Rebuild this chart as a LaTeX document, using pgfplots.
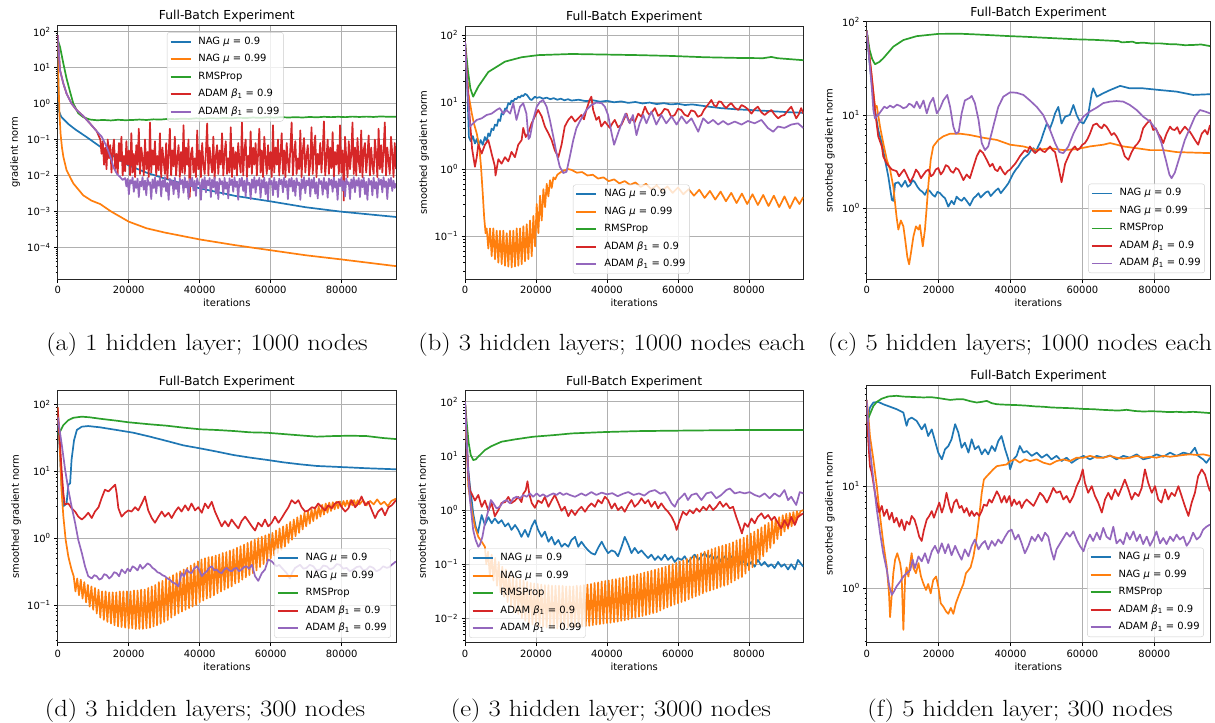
\documentclass[border=0pt]{standalone}
\usepackage{fontspec}
\setsansfont{DejaVu Sans}
\usepackage{graphicx}
\usepackage{pgfplots}
\pgfplotsset{compat=1.18}

\definecolor{c0}{HTML}{1F77B4}
\definecolor{c1}{HTML}{FF7F0E}
\definecolor{c2}{HTML}{2CA02C}
\definecolor{c3}{HTML}{D62728}
\definecolor{c4}{HTML}{9467BD}
\definecolor{gridc}{HTML}{B0B0B0}
\definecolor{legc}{HTML}{CCCCCC}

\newcommand{\sm}{\sffamily\fontsize{10}{12}\selectfont}
\newcommand{\leg}{\legend{NAG \textit{μ} = 0.9, NAG \textit{μ} = 0.99, RMSProp, ADAM \textit{β}\textsubscript{1} = 0.9, ADAM \textit{β}\textsubscript{1} = 0.99}}
\newcommand{\capt}[1]{\scalebox{1.135}[1]{#1}}

\pgfplotsset{
  scale only axis,
  xmin=0,
  xtick={0,20000,40000,60000,80000},
  scaled x ticks=false,
  tick label style={font=\sm},
  label style={font=\sm},
  title style={font=\sffamily\fontsize{12.4}{15}\selectfont, at={(0.5,1)}, anchor=south, yshift=-3.5bp, inner sep=0pt},
  xlabel style={at={(axis description cs:0.5,0)}, anchor=base, yshift=-27.5bp, inner sep=0pt},
  ylabel style={anchor=center, inner sep=0pt},
  tick pos=left, tick align=outside,
  major tick length=3.5bp, minor tick length=2bp,
  major tick style={line width=0.8bp, black},
  minor tick style={line width=0.6bp, black},
  grid=major, major grid style={gridc, line width=0.8bp},
  axis line style={line width=0.8bp, black!85},
  every axis plot/.append style={line width=1.7bp, line join=round, mark=none},
  legend cell align=left,
  legend image code/.code={\draw[#1, line width=1.7bp] (0bp,0bp) -- (20bp,0bp); \path (25.5bp,0bp);},
  legend style={font=\sm, draw=legc, rounded corners=2.5bp, fill=white, fill opacity=0.8, draw opacity=1, text opacity=1,
    inner xsep=2.5bp, inner ysep=3bp, row sep=4.5bp, nodes={inner sep=1.5bp, text height=7.5bp, text depth=2.5bp}},
}

\begin{document}
\begin{tikzpicture}
\path[use as bounding box] (0,0) rectangle (1215bp,-723bp);

% ---------------- (a) ----------------
\begin{axis}[at={(57.7bp,-279.3bp)}, anchor=south west, width=338.3bp, height=254.3bp,
  ymode=log, xmax=95300, ymin=1.29e-5, ymax=154,
  /pgf/number format/fixed, /pgf/number format/1000 sep={}, /pgf/number format/assume math mode=true,
  title={Full-Batch Experiment}, xlabel={iterations}, ylabel={gradient norm},
  ytick={1e-4,1e-3,1e-2,1e-1,1,10,100},
  yticklabels={10\textsuperscript{−4},10\textsuperscript{−3},10\textsuperscript{−2},10\textsuperscript{−1},10\textsuperscript{0},10\textsuperscript{1},10\textsuperscript{2}},
  minor ytick={2e-5,3e-5,4e-5,5e-5,6e-5,7e-5,8e-5,9e-5,2e-4,3e-4,4e-4,5e-4,6e-4,7e-4,8e-4,9e-4,2e-3,3e-3,4e-3,5e-3,6e-3,7e-3,8e-3,9e-3,0.02,0.03,0.04,0.05,0.06,0.07,0.08,0.09,0.2,0.3,0.4,0.5,0.6,0.7,0.8,0.9,2,3,4,5,6,7,8,9,20,30,40,50,60,70,80,90},
  ylabel style={at={(axis description cs:-0.126,0.5)}},
  legend style={at={(0.323,0.972)}, anchor=north west}]
\addplot[c0] coordinates {(0,60)(150,3)(400,0.6)(1000,0.43)(3000,0.27)(5000,0.19)(8000,0.12)(12000,0.063)(16000,0.033)(20000,0.019)(25000,0.012)(30000,0.0083)(40000,0.0044)(50000,0.0027)(60000,0.0019)(70000,0.0013)(80000,0.00098)(95300,0.0007)};
\addplot[c1] coordinates {(0,60)(200,5)(500,0.5)(800,0.15)(1200,0.06)(1600,0.033)(2500,0.014)(4400,0.006)(7200,0.0028)(9500,0.002)(12000,0.0016)(15000,0.001)(20000,0.00052)(25000,0.00034)(30000,0.00026)(40000,0.000166)(50000,0.000115)(60000,0.000083)(70000,0.00006)(80000,0.000046)(95300,0.00003)};
\addplot[c2] coordinates {(0,60)(650,38)(1600,13)(2500,5)(3500,2.1)(4400,1.0)(5800,0.54)(7200,0.42)(9100,0.36)(11000,0.345)(13000,0.35)(15000,0.34)(17000,0.355)(19000,0.345)(21000,0.35)(23000,0.36)(25000,0.35)(27000,0.365)(29000,0.36)(31000,0.375)(33000,0.37)(35000,0.38)(37000,0.375)(39000,0.39)(41000,0.38)(43000,0.395)(45000,0.385)(47000,0.4)(49000,0.39)(51000,0.405)(53000,0.395)(55000,0.41)(57000,0.4)(59000,0.415)(61000,0.405)(63000,0.42)(65000,0.41)(67000,0.42)(69000,0.41)(71000,0.425)(73000,0.415)(75000,0.43)(77000,0.42)(79000,0.43)(81000,0.42)(83000,0.435)(85000,0.425)(87000,0.435)(89000,0.425)(91000,0.44)(93000,0.43)(95300,0.43)};
\addplot[c3] coordinates {(0,80)(650,8.5)(1600,3.6)(2500,1.9)(3900,1.0)(5350,0.66)(7200,0.45)(9100,0.28)(11000,0.17)
(12000,0.1)(12350,0.04)(12700,0.09)(13050,0.02)(13400,0.06)(13750,0.015)(14100,0.1)(14450,0.03)(14800,0.07)(15150,0.012)
(15500,0.05)(15850,0.1)(16200,0.015)(16550,0.04)(16900,0.011)(17250,0.08)(17600,0.025)(17950,0.12)(18300,0.01)(18650,0.035)
(19000,0.013)(19350,0.09)(19700,0.02)(20050,0.05)(20400,0.01)(20750,0.15)(21100,0.012)(21450,0.04)(21800,0.009)(22150,0.07)
(22500,0.02)(22850,0.2)(23200,0.011)(23550,0.06)(23900,0.03)(24250,0.01)(24600,0.1)(24950,0.015)(25300,0.045)(25650,0.009)
(26000,0.3)(26350,0.012)(26700,0.05)(27050,0.02)(27400,0.09)(27750,0.01)(28100,0.035)(28450,0.014)(28800,0.15)(29150,0.009)
(29500,0.06)(29850,0.025)(30200,0.011)(30550,0.08)(30900,0.008)(31250,0.04)(31600,0.2)(31950,0.01)(32300,0.05)(32650,0.018)
(33000,0.12)(33350,0.01)(33700,0.03)(34050,0.07)(34400,0.009)(34750,0.045)(35100,0.012)(35450,0.25)(35800,0.011)(36150,0.06)
(36500,0.02)(36850,0.1)(37200,0.0025)(37550,0.04)(37900,0.06)(38250,0.012)(38600,0.03)(38950,0.009)(39300,0.18)(39650,0.015)
(40000,0.05)(40350,0.009)(40700,0.08)(41050,0.02)(41400,0.011)(41750,0.045)(42100,0.28)(42450,0.01)(42800,0.06)(43150,0.025)
(43500,0.012)(43850,0.12)(44200,0.008)(44550,0.035)(44900,0.07)(45250,0.011)(45600,0.05)(45950,0.02)(46300,0.15)(46650,0.01)
(47000,0.04)(47350,0.09)(47700,0.011)(48050,0.03)(48400,0.012)(48750,0.22)(49100,0.009)(49450,0.06)(49800,0.015)(50150,0.045)
(50500,0.01)(50850,0.08)(51200,0.025)(51550,0.012)(51900,0.3)(52250,0.01)(52600,0.05)(52950,0.1)(53300,0.009)(53650,0.035)
(54000,0.017)(54350,0.17)(54700,0.011)(55050,0.06)(55400,0.02)(55750,0.08)(56100,0.01)(56450,0.04)(56800,0.2)(57150,0.012)
(57500,0.05)(57850,0.009)(58200,0.12)(58550,0.03)(58900,0.011)(59250,0.07)(59600,0.015)(59950,0.045)(60300,0.009)(60650,0.25)
(61000,0.012)(61350,0.06)(61700,0.02)(62050,0.1)(62400,0.01)(62750,0.035)(63100,0.15)(63450,0.011)(63800,0.05)(64150,0.009)
(64500,0.08)(64850,0.025)(65200,0.012)(65550,0.06)(65900,0.3)(66250,0.01)(66600,0.04)(66950,0.09)(67300,0.011)(67650,0.03)
(68000,0.015)(68350,0.18)(68700,0.009)(69050,0.05)(69400,0.11)(69750,0.012)(70100,0.035)(70450,0.07)(70800,0.01)(71150,0.022)
(71500,0.22)(71850,0.011)(72200,0.06)(72550,0.13)(72900,0.009)(73250,0.04)(73600,0.02)(73950,0.08)(74300,0.012)(74650,0.05)
(75000,0.32)(75350,0.01)(75700,0.03)(76050,0.1)(76400,0.011)(76750,0.06)(77100,0.016)(77450,0.16)(77800,0.009)(78150,0.045)
(78500,0.02)(78850,0.07)(79200,0.011)(79550,0.25)(79900,0.012)(80250,0.05)(80600,0.002)(80950,0.12)(81300,0.03)(81650,0.009)
(82000,0.09)(82350,0.015)(82700,0.04)(83050,0.3)(83400,0.011)(83750,0.06)(84100,0.01)(84450,0.11)(84800,0.025)(85150,0.012)
(85500,0.18)(85850,0.009)(86200,0.05)(86550,0.08)(86900,0.012)(87250,0.035)(87600,0.13)(87950,0.01)(88300,0.06)(88650,0.02)
(89000,0.011)(89350,0.1)(89700,0.04)(90050,0.009)(90400,0.2)(90750,0.015)(91100,0.07)(91450,0.012)(91800,0.05)(92150,0.3)
(92500,0.01)(92850,0.06)(93200,0.025)(93550,0.011)(93900,0.12)(94250,0.04)(94600,0.009)(94950,0.08)(95300,0.015)};
\addplot[c4] coordinates {(0,80)(650,8.5)(1600,3.6)(2500,1.9)(3900,1.0)(5350,0.66)(7200,0.45)(9100,0.28)(11000,0.17)(12400,0.12)(13800,0.063)(15000,0.03)(15700,0.017)(16700,0.011)(17600,0.009)(18300,0.0075)
(19000,0.0085)(19350,0.005)(19700,0.008)(20050,0.003)(20400,0.0075)(20750,0.006)(21100,0.0088)(21450,0.0035)(21800,0.007)(22150,0.0045)
(22500,0.0082)(22850,0.0025)(23200,0.0068)(23550,0.005)(23900,0.009)(24250,0.004)(24600,0.0072)(24950,0.0028)(25300,0.0085)(25650,0.0055)
(26000,0.0065)(26350,0.0022)(26700,0.0078)(27050,0.0045)(27400,0.0088)(27750,0.0032)(28100,0.007)(28450,0.0052)(28800,0.0086)(29150,0.0026)
(29500,0.0074)(29850,0.0048)(30200,0.009)(30550,0.0036)(30900,0.0062)(31250,0.0021)(31600,0.0081)(31950,0.0055)(32300,0.0072)(32650,0.003)
(33000,0.0087)(33350,0.0042)(33700,0.0066)(34050,0.0024)(34400,0.0083)(34750,0.0058)(35100,0.0075)(35450,0.0033)(35800,0.0089)(36150,0.0046)
(36500,0.0069)(36850,0.0022)(37200,0.008)(37550,0.005)(37900,0.0087)(38250,0.0038)(38600,0.0071)(38950,0.0027)(39300,0.0084)(39650,0.0056)
(40000,0.0064)(40350,0.0021)(40700,0.0079)(41050,0.0044)(41400,0.009)(41750,0.0034)(42100,0.0073)(42450,0.0053)(42800,0.0085)(43150,0.0025)
(43500,0.0076)(43850,0.0047)(44200,0.0088)(44550,0.0031)(44900,0.0067)(45250,0.0022)(45600,0.0082)(45950,0.0057)(46300,0.007)(46650,0.0029)
(47000,0.0086)(47350,0.0043)(47700,0.0065)(48050,0.0023)(48400,0.0084)(48750,0.0054)(49100,0.0077)(49450,0.0035)(49800,0.0089)(50150,0.0048)
(50500,0.0068)(50850,0.0021)(51200,0.0081)(51550,0.0051)(51900,0.0087)(52250,0.0037)(52600,0.0072)(52950,0.0026)(53300,0.0085)(53650,0.0055)
(54000,0.0063)(54350,0.0022)(54700,0.0078)(55050,0.0045)(55400,0.009)(55750,0.0033)(56100,0.0074)(56450,0.0052)(56800,0.0086)(57150,0.0024)
(57500,0.0075)(57850,0.0046)(58200,0.0088)(58550,0.003)(58900,0.0066)(59250,0.0021)(59600,0.0083)(59950,0.0056)(60300,0.0071)(60650,0.0028)
(61000,0.0087)(61350,0.0041)(61700,0.0067)(62050,0.0025)(62400,0.0082)(62750,0.0057)(63100,0.0076)(63450,0.0034)(63800,0.0089)(64150,0.0047)
(64500,0.007)(64850,0.0022)(65200,0.008)(65550,0.0049)(65900,0.0086)(66250,0.0036)(66600,0.0073)(66950,0.0027)(67300,0.0084)(67650,0.0054)
(68000,0.0064)(68350,0.0021)(68700,0.0079)(69050,0.0044)(69400,0.009)(69750,0.0032)(70100,0.0072)(70450,0.0053)(70800,0.0085)(71150,0.0026)
(71500,0.0077)(71850,0.0045)(72200,0.0088)(72550,0.0031)(72900,0.0065)(73250,0.0023)(73600,0.0081)(73950,0.0058)(74300,0.007)(74650,0.0029)
(75000,0.0086)(75350,0.0042)(75700,0.0066)(76050,0.0024)(76400,0.0083)(76750,0.0055)(77100,0.0076)(77450,0.0035)(77800,0.0089)(78150,0.0046)
(78500,0.0069)(78850,0.0021)(79200,0.008)(79550,0.005)(79900,0.0087)(80250,0.0038)(80600,0.0071)(80950,0.0026)(81300,0.0084)(81650,0.0057)
(82000,0.0065)(82350,0.0022)(82700,0.0078)(83050,0.0045)(83400,0.009)(83750,0.0034)(84100,0.0074)(84450,0.0052)(84800,0.0085)(85150,0.0025)
(85500,0.0075)(85850,0.0047)(86200,0.0088)(86550,0.003)(86900,0.0067)(87250,0.0021)(87600,0.0082)(87950,0.0056)(88300,0.0071)(88650,0.0028)
(89000,0.0087)(89350,0.0043)(89700,0.0066)(90050,0.0024)(90400,0.0083)(90750,0.0055)(91100,0.0077)(91450,0.0034)(91800,0.0089)(92150,0.0048)
(92500,0.0069)(92850,0.0022)(93200,0.008)(93550,0.005)(93900,0.0086)(94250,0.0037)(94600,0.0072)(94950,0.0045)(95300,0.006)};
\leg
\end{axis}

% ---------------- (b) ----------------
\begin{axis}[at={(465bp,-279.3bp)}, anchor=south west, width=338.3bp, height=253.3bp,
  ymode=log, xmax=95300, ymin=0.0226, ymax=136,
  /pgf/number format/fixed, /pgf/number format/1000 sep={}, /pgf/number format/assume math mode=true,
  title={Full-Batch Experiment}, xlabel={iterations}, ylabel={smoothed gradient norm},
  ytick={0.1,1,10,100},
  yticklabels={10\textsuperscript{−1},10\textsuperscript{0},10\textsuperscript{1},10\textsuperscript{2}},
  minor ytick={0.03,0.04,0.05,0.06,0.07,0.08,0.09,0.2,0.3,0.4,0.5,0.6,0.7,0.8,0.9,2,3,4,5,6,7,8,9,20,30,40,50,60,70,80,90},
  ylabel style={at={(axis description cs:-0.121,0.5)}},
  legend style={at={(0.319,0.021)}, anchor=south west}]
\addplot[c0] coordinates {(0,80)(600,20)(1100,3.0)(1600,2.6)(2200,3.1)(2800,2.4)(3300,2.8)(3900,2.2)(4400,2.7)(5000,2.3)(5600,3.0)(6100,2.6)(6570,3.4)(7000,3.1)(7500,4.0)(8000,3.8)(8440,4.6)(9000,4.4)(9400,5.5)(9900,5.2)(10300,6.8)(10800,6.5)(11300,8.0)(11700,7.8)(12200,9.6)(12700,9.2)(13100,10.5)(13600,10.2)(14070,11.2)(14500,11.0)(15000,12.0)(15500,11.6)(15950,12.6)(16400,12.2)(16900,13.2)(17400,12.8)(17800,12.0)(18300,11.0)(18760,10.7)(19200,11.3)(19700,12)(20200,11.5)(21000,11.8)(22000,11.2)(23000,11.6)(24000,11.0)(25000,11.4)(26000,10.8)(27000,11.2)(28000,10.6)(29000,11.0)(30000,10.5)(32000,10.8)(34000,10.3)(36000,10.6)(38000,10.1)(40000,10.4)(42000,9.9)(44000,10.2)(46000,9.7)(48000,10.0)(50000,9.5)(52000,9.8)(54000,9.3)(56000,9.6)(58000,9.2)(60000,9.4)(62000,9.0)(64000,9.2)(66000,8.9)(68000,8.6)(72000,8.1)(76000,7.8)(80000,7.6)(84000,7.4)(88000,7.2)(92000,7.0)(95300,6.9)};
\addplot[c1] coordinates {(0,80)(940,13.5)(1900,6.8)(2500,4.8)(3300,3.4)(4000,2.2)(4500,1.1)(5000,0.43)(5400,0.19)(5800,0.11)(6100,0.13)(6570,0.065)(7040,0.13)(7510,0.05)(7980,0.13)(8450,0.045)(8920,0.12)(9390,0.04)(9860,0.12)(10330,0.038)(10800,0.12)(11270,0.036)(11740,0.11)(12210,0.035)(12680,0.12)(13150,0.034)(13620,0.12)(14090,0.035)(14560,0.13)(15030,0.036)(15500,0.13)(15970,0.038)(16440,0.14)(16910,0.042)(17380,0.15)(17850,0.045)(18320,0.17)(18790,0.05)(19260,0.2)(19730,0.07)(20200,0.3)(20670,0.11)(21140,0.4)(21610,0.17)(22080,0.5)(22550,0.27)(23020,0.6)(23490,0.39)(23960,0.68)(24430,0.52)(24900,0.75)(25400,0.7)(26000,0.82)(27000,0.9)(28000,0.95)(29000,1.0)(30000,0.97)(31500,0.88)(33000,0.9)(34500,0.8)(36000,0.82)(37500,0.72)(39000,0.75)(40500,0.66)(42000,0.7)(43500,0.61)(45000,0.66)(46500,0.58)(48000,0.63)(49500,0.54)(51000,0.6)(52500,0.5)(54000,0.57)(55500,0.47)(57000,0.55)(58500,0.44)(60000,0.53)(61500,0.42)(63000,0.5)(64500,0.4)(66000,0.49)(67500,0.37)(69000,0.47)(70500,0.35)(72000,0.46)(73500,0.33)(75000,0.44)(76500,0.31)(78000,0.43)(79500,0.3)(81000,0.42)(82500,0.29)(84000,0.41)(85500,0.28)(87000,0.4)(88500,0.27)(90000,0.39)(91500,0.26)(93000,0.38)(94200,0.3)(95300,0.38)};
\addplot[c2] coordinates {(0,80)(800,30)(1500,16)(2300,12)(3750,17)(6570,28)(11260,40)(15950,46.5)(20600,50)(30000,52)(39400,51)(48800,50)(58200,48.6)(67500,46.5)(77000,45.4)(84000,45)(86300,47)(88000,45)(95300,42)};
\addplot[c3] coordinates {(0,80)(1000,10)(2000,2.0)(2800,1.08)(3300,1.5)(3750,2.3)(4700,1.7)(5600,2.3)(6570,2.7)(7500,1.7)(8400,1.1)(8600,0.8)(9400,1.4)(10300,1.2)(11260,1.5)(12200,1.3)(13100,1.8)(14070,1.5)(15000,2.3)(15950,2.7)(16400,4.1)(17100,3.0)(17800,3.4)(18760,4.8)(19700,6.1)(20600,7.6)(21600,6.1)(22500,4.3)(23500,3.4)(24400,2.7)(25300,1.9)(26300,1.5)(27200,2.3)(28100,4.3)(29100,5.4)(30000,6.1)(31000,5.1)(31900,5.7)(32800,6.4)(33500,5.5)(34200,7.6)(35100,10.7)(35600,12)(36100,7.6)(37000,5.4)(37700,6.0)(38400,4.3)(39400,5.1)(40800,4.1)(41500,4.8)(42200,5.4)(43100,4.2)(44100,4.6)(45500,6.7)(46200,5.0)(46900,5.7)(47800,5.0)(48800,6.7)(49700,6.0)(50700,8.5)(51400,7.0)(52000,6.4)(52800,7.2)(53500,8.1)(54400,6.2)(55300,6.7)(56200,7.9)(57200,7.6)(58100,6.0)(59100,6.4)(60000,7.9)(60900,7.6)(61800,6.5)(62800,6.1)(63700,7.5)(64700,7.2)(65600,6.0)(66600,6.4)(67300,7.6)(68000,8.5)(68700,9.5)(69400,10.7)(70100,9.0)(70800,8.5)(71500,10.2)(72200,10)(72900,8.8)(73600,8.1)(74300,9.0)(75000,9.6)(76000,8.2)(77000,7.6)(77900,9.0)(78800,8.5)(79700,7.8)(80700,6.7)(81600,7.8)(82500,8.5)(83500,7.0)(84400,6.4)(85300,7.0)(86300,7.6)(87200,6.5)(88200,5.7)(89100,6.2)(90000,6.4)(91000,7.5)(91900,8.5)(92600,7.0)(93300,5.7)(94000,6.5)(94700,8.1)(95300,6.7)};
\addplot[c4] coordinates {(0,80)(700,15)(1400,4.3)(2300,4.8)(3300,5.4)(4700,5.7)(6100,6.4)(7500,6.7)(8900,7.6)(9800,8.1)(10800,6.7)(11700,7.6)(12700,6.7)(13600,9.6)(14500,5.4)(15500,8.5)(16400,9.6)(17300,6.7)(17900,2.8)(18300,3.0)(19200,5.4)(20200,8.5)(21100,10)(22000,10.7)(23000,8.5)(23900,5.4)(24900,3.0)(25800,1.7)(26700,1.08)(27700,0.87)(28600,0.91)(29500,1.5)(30500,2.7)(31400,4.1)(32800,5.7)(34200,7.6)(35600,9.0)(37000,9.8)(38500,9.6)(39400,8.5)(40300,6.4)(41300,3.4)(42000,2.3)(43100,3.4)(44100,4.8)(45200,6.7)(46400,4.8)(47300,6.4)(48300,3.2)(49200,4.8)(50200,6.4)(51100,4.8)(52500,7.2)(53900,4.6)(55300,6.4)(56700,4.8)(58200,6.1)(59600,4.6)(61000,6.1)(62400,4.8)(63800,5.7)(65700,3.6)(67100,5.7)(68500,4.8)(69900,5.4)(71300,4.6)(72700,5.2)(74100,4.6)(76000,5.1)(77900,4.6)(79700,5.2)(81600,4.8)(83500,5.4)(85300,4.1)(86800,3.6)(88200,4.3)(90000,4.1)(91900,4.6)(93800,4.8)(95300,4.1)};
\leg
\end{axis}

% ---------------- (c) ----------------
\begin{axis}[at={(866.7bp,-279.3bp)}, anchor=south west, width=343.3bp, height=257.6bp,
  ymode=log, xmax=95500, ymin=0.173, ymax=100,
  /pgf/number format/fixed, /pgf/number format/1000 sep={}, /pgf/number format/assume math mode=true,
  title={Full-Batch Experiment}, xlabel={iterations}, ylabel={smoothed gradient norm},
  ytick={1,10,100},
  yticklabels={10\textsuperscript{0},10\textsuperscript{1},10\textsuperscript{2}},
  minor ytick={0.2,0.3,0.4,0.5,0.6,0.7,0.8,0.9,2,3,4,5,6,7,8,9,20,30,40,50,60,70,80,90},
  ylabel style={at={(axis description cs:-0.107,0.5)}},
  legend style={at={(0.985,0.024)}, anchor=south east}]
\addplot[c0] coordinates {(0,80)(700,40)(1400,21.9)(2300,11.3)(3200,6.9)(4200,5)(5100,3.3)(6000,2.2)(7000,1.23)(7400,1.2)(7900,1.85)(8800,1.9)(9700,1.7)(10700,1.97)(11400,1.7)(12100,1.78)(12800,2.0)(13400,1.9)(14100,1.7)(14800,1.57)(15500,1.5)(16200,1.39)(16900,1.6)(17600,1.52)(18300,1.4)(19000,1.33)(19700,1.5)(20400,1.45)(21100,1.35)(21800,1.28)(22700,1.04)(23600,1.2)(24300,1.1)(25000,1.33)(25700,1.25)(26400,1.2)(27100,1.3)(27800,1.2)(28700,1.07)(29700,1.28)(30400,1.35)(31100,1.45)(31700,1.3)(32400,1.39)(33100,1.48)(33800,1.52)(34500,1.35)(35200,1.45)(35900,1.55)(36600,1.63)(37300,1.45)(38000,1.57)(38700,1.7)(39400,1.85)(40100,2.1)(40800,2.37)(41500,2.6)(42200,2.8)(42900,3.1)(43600,3.4)(44300,3.6)(45000,3.8)(45700,4.2)(46400,4.4)(47000,4.0)(47700,4.6)(48400,5.2)(49100,6.3)(50100,8.1)(51000,7.2)(51700,8.5)(52400,10.4)(53300,12.2)(54200,8.1)(55200,9.6)(56500,10)(57500,12.8)(58400,10)(59300,8.5)(60300,8.1)(61600,10)(62600,17.1)(63000,19.3)(64000,15.7)(65800,17.1)(67700,18.5)(70500,20.5)(73200,19.3)(76900,19.3)(81600,18.5)(86200,17.8)(90800,16.4)(95500,16.7)};
\addplot[c1] coordinates {(0,80)(700,45)(1400,25.8)(2300,12.3)(2800,12.5)(3700,7.5)(4600,5)(5600,3.3)(6500,2.6)(7400,1.7)(8300,0.81)(8800,0.59)(9500,0.74)(10200,0.64)(10700,0.46)(11300,0.30)(11800,0.25)(12300,0.33)(13000,0.5)(13700,0.64)(14400,0.59)(14800,0.66)(15600,0.39)(16200,0.59)(16700,1.04)(17200,1.87)(17800,3.3)(18500,4.6)(19900,5.4)(21300,5.9)(23200,6.3)(26000,6.3)(28700,6.1)(32400,5.7)(36200,5.4)(39900,4.8)(43600,4.6)(47300,4.2)(51000,4.4)(54700,4.2)(58400,4.3)(62100,4.6)(65800,4.8)(67700,5.0)(71400,4.6)(75100,4.4)(78800,4.2)(82500,4.2)(86200,4.0)(90800,3.95)(95500,3.9)};
\addplot[c2] coordinates {(0,80)(800,50)(1500,40)(2300,35)(3500,37)(4600,40.5)(7400,54)(10200,63.6)(13900,70)(19900,74)(26000,74.3)(30600,73)(39900,70)(44000,69)(49100,67.4)(54000,66)(58400,64.7)(63000,64)(67700,62.6)(70000,62)(71000,60)(72300,60.5)(74000,61)(75000,59)(76900,59.6)(79000,58.5)(81600,58.6)(84000,57.5)(86200,57.2)(88500,56)(90800,56.3)(93000,57)(95500,54.8)};
\addplot[c3] coordinates {(0,80)(700,45)(1400,25.8)(2300,11.3)(3200,5.9)(4200,4.6)(4600,3.6)(5600,3.0)(7000,2.6)(8300,2.5)(9000,2.2)(9700,2.4)(10400,2.6)(11100,2.3)(12100,1.9)(13000,2.2)(13700,2.6)(14400,2.4)(15100,2.1)(15800,2.3)(16500,2.5)(17200,2.6)(17900,2.2)(18500,2.3)(19200,2.6)(19900,2.7)(20600,2.3)(21300,2.5)(22000,2.9)(22700,2.8)(23400,2.5)(24100,2.4)(24800,2.7)(25500,2.6)(26200,2.3)(26900,2.0)(27800,2.3)(28700,2.1)(29700,2.8)(30600,3.6)(31500,4.2)(32400,3.9)(33400,3.3)(34300,2.8)(35000,3.0)(35700,2.6)(36400,2.5)(37100,2.8)(37800,2.5)(38500,2.3)(39200,2.5)(39900,2.6)(40600,2.8)(41300,3.0)(42000,3.3)(42600,3.6)(43300,3.9)(44000,4.2)(44700,4.0)(45400,4.6)(46100,4.2)(46800,3.9)(47500,4.1)(48200,4.4)(48900,4.1)(49600,4.0)(50300,4.3)(51000,4.6)(51700,4.2)(52400,4.0)(53300,2.8)(54200,1.9)(55200,3.0)(56500,3.9)(57200,4.3)(57900,4.6)(58600,4.2)(59300,4.4)(60000,4.8)(60700,5.0)(61400,5.5)(62100,6.3)(63000,7.8)(64000,8.1)(64700,7.5)(65400,7.2)(66000,7.9)(66700,7.5)(67400,6.8)(68100,6.1)(68800,6.4)(69500,5.9)(70200,5.2)(70900,4.6)(71800,3.6)(72800,3.3)(73700,4.0)(74600,4.6)(75300,4.9)(76000,5.4)(76900,7.2)(77900,8.1)(78800,8.8)(79700,6.9)(80400,7.2)(81100,6.3)(81800,5.8)(82500,5.0)(83400,6.3)(84400,7.5)(85000,7.0)(85700,6.9)(86400,7.4)(87100,6.3)(87800,6.9)(88500,7.5)(89200,7.0)(89900,6.6)(90600,6.0)(91300,5.4)(92200,4.8)(93200,6.3)(94100,6.9)(94800,6.2)(95500,7.8)};
\addplot[c4] coordinates {(0,80)(900,33)(1400,20)(1850,11.3)(2300,9.2)(3200,10)(4200,11.3)(4900,12.3)(5600,11.8)(6500,12.6)(7400,12)(8400,12.9)(9300,12.5)(10200,11.8)(11100,12.2)(11800,13.2)(12500,12.8)(13200,12.0)(13900,13.9)(14800,11.8)(15800,14.3)(16700,10.4)(17600,13.4)(18500,15.3)(19500,10.4)(20400,11.8)(21300,14.3)(22400,16.4)(23200,12.2)(24100,7.5)(24800,6.3)(25600,6.6)(26400,10.4)(27300,14.3)(28700,15.3)(29200,16)(30100,13.4)(31100,8.9)(32000,5.0)(32900,4.2)(33800,4.6)(35200,7.5)(36600,12.2)(38000,15.7)(39900,17.5)(41700,17.3)(43600,16.4)(45400,14.3)(47300,12.2)(49100,10)(51000,6.9)(52400,5.0)(53600,4.0)(54700,3.9)(56100,4.6)(57500,6.3)(58900,8.1)(60300,9.6)(62100,10.9)(64000,12.0)(65800,13.4)(67700,13.9)(69500,14.1)(71400,13.9)(73200,12.8)(75100,11.3)(76900,9.6)(78800,8.5)(80600,6.9)(82000,5.0)(83200,3.3)(84200,2.3)(84800,2.1)(85700,2.4)(87100,3.6)(88500,5.4)(89900,7.2)(91300,9.6)(92700,11.3)(94100,10.9)(95500,10.4)};
\leg
\end{axis}

% ---------------- (d) ----------------
\begin{axis}[at={(57.7bp,-642.7bp)}, anchor=south west, width=338.3bp, height=252bp,
  ymode=log, xmax=95300, ymin=0.0274, ymax=160,
  /pgf/number format/fixed, /pgf/number format/1000 sep={}, /pgf/number format/assume math mode=true,
  title={Full-Batch Experiment}, xlabel={iterations}, ylabel={smoothed gradient norm},
  ytick={0.1,1,10,100},
  yticklabels={10\textsuperscript{−1},10\textsuperscript{0},10\textsuperscript{1},10\textsuperscript{2}},
  minor ytick={0.03,0.04,0.05,0.06,0.07,0.08,0.09,0.2,0.3,0.4,0.5,0.6,0.7,0.8,0.9,2,3,4,5,6,7,8,9,20,30,40,50,60,70,80,90},
  ylabel style={at={(axis description cs:-0.123,0.5)}},
  legend style={at={(0.985,0.019)}, anchor=south east}]
\addplot[c0] coordinates {(0,60)(600,20)(1100,6)(1600,3.0)(2500,3.3)(3000,6.3)(3500,6.6)(3900,14.8)(4600,29)(5400,41.5)(6800,46.4)(8600,47.4)(11900,45.4)(16600,41.4)(21300,37.7)(26000,32.9)(30700,28.4)(35400,24.4)(40100,22)(44800,19.7)(49500,17.5)(54200,16)(58900,14.8)(63600,13.6)(68300,12.7)(73000,12)(77700,11.7)(82400,11.4)(87000,11.1)(95300,10.7)};
\addplot[c1] coordinates {(0,90)(650,18.6)(1100,5)(1600,2.1)(2250,0.94)(3000,0.53)(3900,0.34)(4500,0.27)(5000,0.16)(5500,0.25)(6000,0.14)(6500,0.24)(7000,0.125)(7500,0.22)(8000,0.11)(8500,0.2)(9000,0.095)(9500,0.19)(10000,0.085)(10500,0.18)(11000,0.075)(11500,0.17)(12000,0.065)(12500,0.16)(13000,0.06)(13500,0.16)(14000,0.056)(14500,0.155)(15000,0.053)(15500,0.155)(16000,0.05)(16500,0.155)(17000,0.048)(17500,0.16)(18000,0.047)(18500,0.16)(19000,0.046)(19500,0.16)(20000,0.045)(20500,0.16)(21000,0.045)(21500,0.165)(22000,0.044)(22500,0.165)(23000,0.044)(23500,0.17)(24000,0.044)(24500,0.17)(25000,0.045)(25500,0.18)(26000,0.046)(26500,0.19)(27000,0.048)(27500,0.2)(28000,0.05)(28500,0.22)(29000,0.053)(29500,0.23)(30000,0.056)(30500,0.25)(31000,0.06)(31500,0.26)(32000,0.065)(32500,0.28)(33000,0.07)(33500,0.3)(34000,0.075)(34500,0.32)(35000,0.08)(35500,0.34)(36000,0.085)(36500,0.36)(37000,0.09)(37500,0.39)(38000,0.095)(38500,0.42)(39000,0.1)(39500,0.45)(40000,0.11)(40500,0.48)(41000,0.117)(41500,0.5)(42000,0.125)(42500,0.52)(43000,0.13)(43500,0.53)(44000,0.14)(44500,0.55)(45000,0.15)(45500,0.57)(46000,0.16)(46500,0.6)(47000,0.17)(47500,0.62)(48000,0.18)(48500,0.65)(49000,0.19)(49500,0.68)(50000,0.21)(50500,0.72)(51000,0.22)(51500,0.76)(52000,0.24)(52500,0.8)(53000,0.26)(53500,0.85)(54000,0.28)(54500,0.9)(55000,0.3)(55500,0.95)(56000,0.33)(56500,1.0)(57000,0.37)(57500,1.05)(58000,0.41)(58500,1.1)(59000,0.45)(59500,1.15)(60000,0.5)(60500,1.2)(61000,0.55)(61500,1.3)(62000,0.6)(62500,1.4)(63000,0.67)(63500,1.5)(64000,0.75)(64500,1.6)(65000,0.85)(65500,1.75)(66000,0.95)(66500,1.9)(67000,1.07)(67500,2.05)(68000,1.2)(68500,2.2)(69000,1.35)(69500,2.4)(70000,1.5)(70500,2.55)(71000,1.65)(71500,2.7)(72000,1.8)(72500,2.9)(73000,1.95)(73500,3.0)(74000,2.1)(74500,3.15)(75000,2.25)(75500,3.3)(76000,2.4)(76500,3.4)(77000,2.55)(77500,3.45)(78000,2.7)(78500,3.5)(79000,2.8)(79500,3.55)(80000,2.9)(80500,3.6)(81000,3.0)(81500,3.65)(82000,3.05)(82500,3.7)(83000,3.1)(83500,3.7)(84000,3.1)(84500,3.7)(85000,3.2)(86000,3.7)(87000,3.1)(88000,3.6)(89000,3.2)(90000,3.8)(91000,3.2)(92000,3.5)(93000,3.0)(94000,3.6)(95300,3.9)};
\addplot[c2] coordinates {(0,35)(400,37)(1600,49)(3000,58)(4400,63)(6800,65.5)(9100,64)(11900,61)(16600,57)(19900,54)(26000,50.3)(30700,48)(35400,44.9)(40100,42.4)(44800,41.4)(49500,40)(54200,38.2)(58900,37.7)(63600,36)(68300,34.4)(73000,32.9)(77700,33.6)(82400,34)(87000,33.6)(91700,31.4)(95300,30.3)};
\addplot[c3] coordinates {(0,90)(650,26)(1100,10.5)(1600,4.7)(2000,3.2)(3000,3.3)(3900,2.8)(4900,2.5)(5800,2.1)(6800,1.9)(7700,2.1)(8600,2.4)(9600,2.0)(10500,2.5)(11500,2.9)(12400,4.0)(13300,5.3)(14300,5.0)(15200,5.6)(16200,6.3)(16600,4.7)(17100,2.8)(18000,2.1)(19000,2.4)(19900,2.6)(20800,2.5)(21800,2.9)(22700,2.6)(23700,3.3)(24600,4.2)(25500,2.6)(26500,2.0)(27400,1.7)(28400,2.1)(29300,2.5)(30200,2.1)(31200,2.4)(32100,2.0)(33100,2.5)(34000,2.9)(34900,2.5)(35900,3.1)(36800,2.6)(37700,3.3)(38700,2.6)(39600,2.9)(40600,2.4)(41500,3.3)(42400,2.8)(43400,3.5)(44300,2.5)(45300,1.9)(46200,1.5)(47100,1.8)(48100,1.5)(49000,1.9)(50000,1.6)(50900,1.4)(51800,1.8)(52800,2.1)(53700,1.8)(54700,1.5)(55600,1.3)(56500,1.7)(57500,1.5)(58400,1.9)(59300,1.5)(60300,1.7)(61200,2.1)(62200,1.7)(63100,2.0)(64000,2.4)(65000,2.9)(65900,3.7)(66900,3.3)(67800,3.7)(68700,2.9)(69700,2.5)(70600,2.6)(71600,2.9)(72500,2.8)(73400,3.3)(74400,2.9)(75300,2.6)(76200,3.1)(77200,2.8)(78100,3.3)(79100,3.5)(80000,2.9)(81000,2.5)(81900,2.8)(82800,3.7)(83800,2.9)(84700,3.3)(85600,4.2)(86600,3.1)(87500,3.5)(88500,2.6)(89400,2.0)(90300,2.5)(91300,2.8)(92200,2.2)(93200,2.9)(94100,3.1)(95300,3.7)};
\addplot[c4] coordinates {(0,65)(1100,26)(2100,10.5)(3000,5.3)(3900,3.0)(4900,1.7)(5800,0.94)(6800,0.6)(7700,0.38)(8600,0.27)(9600,0.25)(10300,0.28)(11000,0.27)(11700,0.24)(12400,0.25)(13100,0.29)(13800,0.28)(14500,0.25)(15200,0.27)(15900,0.31)(16600,0.30)(17300,0.27)(18000,0.34)(19000,0.30)(19700,0.35)(20400,0.32)(21100,0.38)(21800,0.36)(22500,0.33)(23200,0.40)(23900,0.35)(24600,0.38)(25300,0.42)(26000,0.40)(26700,0.36)(27400,0.34)(28100,0.31)(28800,0.30)(29500,0.28)(30200,0.27)(30900,0.25)(31600,0.24)(32300,0.22)(33100,0.21)(34000,0.19)(34900,0.30)(35600,0.27)(36300,0.34)(37000,0.31)(37700,0.30)(38400,0.35)(39200,0.38)(39900,0.33)(40600,0.27)(41300,0.30)(42000,0.32)(42700,0.36)(43400,0.38)(44100,0.33)(44800,0.34)(45500,0.31)(46200,0.30)(46900,0.34)(47600,0.36)(48300,0.33)(49000,0.32)(49700,0.35)(50400,0.36)(51100,0.32)(51800,0.34)(52500,0.37)(53200,0.38)(53900,0.35)(54700,0.40)(55600,0.27)(56500,0.23)(57500,0.30)(58400,0.34)(59300,0.48)(60300,0.45)(61000,0.41)(61700,0.38)(62400,0.40)(63100,0.36)(63800,0.33)(64500,0.30)(65400,0.25)(66100,0.31)(66900,0.36)(67600,0.38)(68300,0.40)(69200,0.35)(70100,0.36)(71000,0.40)(72000,0.38)(72900,0.33)(73900,0.34)(74800,0.39)(75800,0.38)(76700,0.34)(77700,0.36)(78600,0.41)(79500,0.40)(80400,0.35)(81400,0.36)(82300,0.32)(83300,0.34)(84200,0.37)(85200,0.38)(86100,0.33)(87000,0.34)(87900,0.38)(88900,0.36)(89800,0.32)(90800,0.34)(91700,0.38)(92700,0.36)(93400,0.37)(94100,0.40)(95300,0.45)};
\leg
\end{axis}

% ---------------- (e) ----------------
\begin{axis}[at={(465bp,-642.7bp)}, anchor=south west, width=338.3bp, height=252bp,
  ymode=log, xmax=95300, ymin=0.00355, ymax=160,
  /pgf/number format/fixed, /pgf/number format/1000 sep={}, /pgf/number format/assume math mode=true,
  title={Full-Batch Experiment}, xlabel={iterations}, ylabel={smoothed gradient norm},
  ytick={0.01,0.1,1,10,100},
  yticklabels={10\textsuperscript{−2},10\textsuperscript{−1},10\textsuperscript{0},10\textsuperscript{1},10\textsuperscript{2}},
  minor ytick={0.004,0.005,0.006,0.007,0.008,0.009,0.02,0.03,0.04,0.05,0.06,0.07,0.08,0.09,0.2,0.3,0.4,0.5,0.6,0.7,0.8,0.9,2,3,4,5,6,7,8,9,20,30,40,50,60,70,80,90},
  ylabel style={at={(axis description cs:-0.124,0.5)}},
  legend style={at={(0.012,0.019)}, anchor=south west}]
\addplot[c0] coordinates {(0,100)(470,17)(940,5.5)(1400,2.7)(1900,1.5)(2300,0.87)(3000,0.5)(3600,0.37)(4200,0.57)(4700,0.81)(5600,0.53)(6600,0.74)(7500,0.57)(8400,0.7)(9400,0.57)(10300,0.65)(11300,0.5)(12200,0.57)(13100,0.43)(14100,0.53)(15000,0.43)(15900,0.32)(16900,0.43)(17800,0.32)(18800,0.5)(19700,0.65)(20600,0.43)(21600,0.32)(22500,0.4)(23500,0.26)(24400,0.32)(25300,0.23)(26300,0.28)(27200,0.21)(28100,0.24)(29100,0.21)(30000,0.28)(31000,0.32)(31900,0.21)(32800,0.26)(33800,0.21)(34700,0.18)(35600,0.16)(36600,0.15)(37500,0.2)(38500,0.26)(39400,0.2)(40300,0.16)(41300,0.18)(42200,0.17)(43100,0.14)(44100,0.21)(45000,0.32)(46000,0.23)(46900,0.16)(47800,0.2)(48800,0.16)(49700,0.18)(50700,0.15)(51600,0.13)(52500,0.15)(53500,0.12)(54400,0.14)(55300,0.12)(56300,0.15)(57200,0.12)(58200,0.14)(59100,0.11)(60000,0.13)(61000,0.12)(61900,0.14)(62800,0.11)(63800,0.13)(64700,0.15)(65700,0.12)(66600,0.14)(67500,0.16)(68500,0.13)(69400,0.15)(70400,0.12)(71300,0.14)(72200,0.11)(73200,0.14)(74100,0.12)(75000,0.14)(76000,0.11)(76900,0.14)(77900,0.1)(78800,0.12)(79700,0.095)(80700,0.11)(81600,0.09)(82500,0.12)(83500,0.095)(84400,0.11)(85400,0.09)(86300,0.1)(87200,0.085)(88200,0.11)(89100,0.09)(90000,0.1)(91000,0.08)(91900,0.1)(92900,0.08)(93800,0.12)(95300,0.09)};
\addplot[c1] coordinates {(0,100)(940,2.7)(1900,1.0)(2800,0.49)(3750,0.32)(4700,0.26)(5600,0.21)(6000,0.1)(6500,0.17)(7000,0.06)(7500,0.15)(8000,0.05)(8500,0.13)(9000,0.04)(9500,0.11)(10000,0.03)(10500,0.09)(11000,0.025)(11500,0.08)(12000,0.02)(12500,0.07)(13000,0.016)(13500,0.06)(14000,0.013)(14500,0.055)(15000,0.012)(15500,0.052)(16000,0.01)(16500,0.05)(17000,0.009)(17500,0.047)(18000,0.008)(18500,0.045)(19000,0.0077)(19500,0.044)(20000,0.0074)(20500,0.043)(21000,0.0072)(21500,0.042)(22000,0.007)(22500,0.041)(23000,0.0068)(23500,0.041)(24000,0.0067)(24500,0.04)(25000,0.0066)(25500,0.04)(26000,0.0065)(26500,0.04)(27000,0.0065)(27500,0.04)(28000,0.0066)(28500,0.039)(29000,0.0067)(29500,0.039)(30000,0.0068)(30500,0.039)(31000,0.0069)(31500,0.04)(32000,0.007)(32500,0.04)(33000,0.0071)(33500,0.041)(34000,0.0072)(34500,0.042)(35000,0.0073)(35500,0.043)(36000,0.0075)(36500,0.045)(37000,0.0077)(37500,0.046)(38000,0.0078)(38500,0.048)(39000,0.008)(39500,0.049)(40000,0.0082)(40500,0.05)(41000,0.0083)(41500,0.052)(42000,0.0085)(42500,0.053)(43000,0.0087)(43500,0.055)(44000,0.009)(44500,0.056)(45000,0.0092)(45500,0.058)(46000,0.0095)(46500,0.06)(47000,0.01)(47500,0.062)(48000,0.0103)(48500,0.065)(49000,0.0107)(49500,0.067)(50000,0.011)(50500,0.07)(51000,0.0115)(51500,0.073)(52000,0.012)(52500,0.076)(53000,0.0125)(53500,0.079)(54000,0.013)(54500,0.082)(55000,0.014)(55500,0.086)(56000,0.015)(56500,0.09)(57000,0.016)(57500,0.095)(58000,0.017)(58500,0.1)(59000,0.018)(59500,0.106)(60000,0.019)(60500,0.112)(61000,0.02)(61500,0.118)(62000,0.021)(62500,0.125)(63000,0.0225)(63500,0.133)(64000,0.024)(64500,0.141)(65000,0.0255)(65500,0.15)(66000,0.027)(66500,0.16)(67000,0.029)(67500,0.17)(68000,0.031)(68500,0.18)(69000,0.0325)(69500,0.19)(70000,0.034)(70500,0.2)(71000,0.036)(71500,0.21)(72000,0.038)(72500,0.22)(73000,0.04)(73500,0.23)(74000,0.042)(74500,0.24)(75000,0.046)(75500,0.255)(76000,0.05)(76500,0.275)(77000,0.054)(77500,0.29)(78000,0.058)(78500,0.31)(79000,0.067)(79500,0.34)(80000,0.077)(80500,0.37)(81000,0.088)(81500,0.4)(82000,0.1)(82500,0.44)(83000,0.12)(83500,0.48)(84000,0.14)(84500,0.53)(85000,0.17)(85500,0.58)(86000,0.2)(86500,0.63)(87000,0.24)(87500,0.68)(88000,0.29)(88500,0.74)(89000,0.34)(89500,0.8)(90000,0.4)(90500,0.85)(91000,0.45)(91500,0.88)(92000,0.5)(92500,0.92)(93000,0.55)(93500,0.95)(94000,0.75)(94500,0.95)(95300,1.0)};
\addplot[c2] coordinates {(0,100)(500,40)(1000,18)(1600,10.5)(2300,8.4)(3000,8.6)(3750,9.7)(5600,12.8)(7500,15.2)(10300,18.3)(14100,20.2)(19200,22.6)(25300,24.3)(30000,26)(39400,27.6)(48800,28.7)(58200,29.2)(67500,29.6)(76900,30)(95300,30)};
\addplot[c3] coordinates {(0,100)(900,5)(1400,2.3)(1900,2.0)(2800,1.5)(3750,1.9)(4700,1.15)(5600,1.5)(6600,0.97)(7500,1.35)(8400,0.77)(9400,1.0)(10300,1.35)(11300,1.4)(12200,1.75)(13100,1.35)(14100,1.5)(15000,1.75)(15900,1.4)(16400,2.0)(17100,2.3)(17600,3.4)(18100,2.0)(18800,1.35)(19700,1.1)(20600,1.5)(21600,1.35)(22500,1.75)(23500,1.15)(24400,1.5)(25300,1.9)(26300,1.35)(27200,0.97)(28100,1.15)(29100,0.77)(30000,1.0)(31000,0.81)(31900,1.0)(32800,1.15)(33800,0.93)(34700,1.15)(35600,1.33)(36600,1.15)(37500,1.53)(38500,1.33)(39400,1.76)(40300,1.53)(41300,1.07)(42200,1.33)(43100,1.0)(44100,1.15)(45000,0.93)(46000,1.24)(46900,1.53)(47800,1.15)(48800,1.33)(49700,1.65)(50700,1.33)(51600,1.53)(52500,1.15)(53500,1.43)(54400,1.07)(55300,1.33)(56300,1.07)(57200,0.93)(58200,0.75)(59100,0.57)(59600,0.43)(60500,0.65)(61400,0.93)(62400,0.81)(63300,1.0)(64300,0.87)(65200,1.07)(66100,0.93)(67100,1.15)(68000,1.0)(68900,1.24)(69900,1.0)(70800,1.15)(71800,1.43)(72700,1.15)(73600,1.33)(74600,1.07)(75500,1.15)(76400,0.75)(77400,0.49)(78000,0.37)(78800,0.57)(79700,0.49)(80700,0.7)(81600,0.57)(82500,0.75)(83500,0.87)(84400,0.7)(85400,0.81)(86300,0.65)(87200,0.75)(88200,0.57)(89100,0.46)(90000,0.65)(91000,0.49)(91900,0.75)(92900,0.53)(93800,0.75)(95300,0.87)};
\addplot[c4] coordinates {(0,100)(940,4.1)(1400,1.53)(1900,0.75)(2300,0.43)(3000,0.28)(3750,0.21)(4200,0.23)(4900,0.32)(5600,0.57)(6600,1.0)(7300,1.53)(8000,1.33)(8900,1.07)(9800,1.15)(10800,1.43)(11700,1.53)(12700,1.33)(13600,1.65)(14500,1.76)(15500,1.65)(16400,1.9)(17400,1.76)(18300,2.03)(19200,1.76)(20200,2.03)(21100,1.8)(22000,1.95)(23000,1.76)(23900,1.9)(24900,2.03)(25800,1.9)(26700,2.1)(27700,1.9)(28600,2.03)(29500,1.9)(31000,1.76)(32800,2.03)(34000,1.85)(35600,2.15)(37000,1.9)(38500,2.1)(40000,1.95)(41500,2.05)(43000,1.8)(44500,2.0)(46000,2.15)(47500,1.9)(49000,2.03)(50500,1.85)(52000,2.2)(53500,2.34)(55000,2.0)(56300,2.15)(57200,1.76)(58200,1.33)(59100,1.15)(60000,1.53)(61000,1.76)(61900,2.03)(62800,1.53)(63800,1.9)(65200,2.03)(66600,1.53)(68000,2.03)(69400,2.15)(70800,1.65)(72200,1.9)(73600,2.34)(74600,2.5)(76000,2.03)(77400,2.15)(78800,2.03)(80200,2.15)(81600,1.9)(83000,1.76)(84400,2.03)(85800,1.65)(87200,2.03)(88600,1.76)(90000,2.34)(91000,1.53)(91900,1.76)(93300,1.24)(94300,2.15)(95300,2.03)};
\leg
\end{axis}

% ---------------- (f) ----------------
\begin{axis}[at={(866.7bp,-642.7bp)}, anchor=south west, width=343.3bp, height=257.7bp,
  ymode=log, xmax=95500, ymin=0.292, ymax=98,
  /pgf/number format/fixed, /pgf/number format/1000 sep={}, /pgf/number format/assume math mode=true,
  title={Full-Batch Experiment}, xlabel={iterations}, ylabel={smoothed gradient norm},
  ytick={1,10},
  yticklabels={10\textsuperscript{0},10\textsuperscript{1}},
  minor ytick={0.3,0.4,0.5,0.6,0.7,0.8,0.9,2,3,4,5,6,7,8,9,20,30,40,50,60,70,80,90},
  ylabel style={at={(axis description cs:-0.107,0.5)}},
  legend style={at={(0.982,0.022)}, anchor=south east}]
\addplot[c0] coordinates {(0,42)(900,59)(1850,66)(3200,67)(4600,63.5)(6500,60)(8300,56.8)(10200,52.6)(11100,39)(11600,45)(12500,47)(13900,43.6)(15300,36)(16200,40.5)(17100,31)(18100,36)(19000,27.7)(19900,21.3)(20900,18.3)(21800,23)(22700,24.7)(23600,28.8)(24600,40.5)(25500,33.5)(26400,23.8)(27300,26.7)(28300,21.3)(29200,28.8)(30100,23)(31100,24.7)(32000,20.5)(32900,23)(33800,20.5)(34800,24.7)(35700,22.1)(36600,27.7)(37500,31)(38500,23)(39400,18.3)(39900,14.6)(40800,18.3)(41700,19.8)(42600,24.7)(43600,21.3)(44500,22.1)(45900,19.8)(47300,21.3)(48700,19)(50100,20.5)(51400,18.3)(52800,19.8)(54200,17.6)(55600,19)(57000,16.9)(58400,18.3)(60300,19.8)(62100,18.3)(64000,19.8)(65800,19)(67700,20)(69500,18.3)(71400,19.8)(73200,19)(75100,20.5)(76900,18.3)(78800,19)(80600,20.5)(82500,19.4)(84400,21.3)(86200,19.8)(88100,21.3)(89900,20.5)(91300,23.8)(92200,19.8)(93600,18.3)(94500,16.9)(95500,19)};
\addplot[c1] coordinates {(0,70)(460,49)(900,31)(1850,18.3)(2800,10)(3700,5.1)(4600,2.8)(5600,1.6)(6200,0.89)(6500,0.52)(7000,0.89)(7400,1.4)(7900,1.9)(8500,2.2)(9300,1.76)(9700,1.4)(10200,0.39)(10700,1.3)(11100,1.6)(11600,1.3)(12100,1.76)(12500,2.2)(13000,1.57)(13700,1.4)(14400,1.76)(15100,1.3)(15800,1.1)(16500,0.96)(17100,1.1)(17800,0.89)(18500,1.2)(19300,1.3)(19900,1.04)(20600,0.71)(21300,0.66)(22100,0.59)(22700,0.56)(23400,0.64)(24100,0.56)(24800,0.71)(25500,0.83)(26200,0.96)(26900,1.1)(27600,1.4)(28300,1.5)(28900,1.6)(29700,2.05)(30600,3.2)(31200,4.7)(32000,8.6)(32600,11.6)(33400,12.5)(34300,13.5)(35200,14.6)(36200,15.7)(37500,16)(38900,16.3)(39900,17.6)(41300,18.3)(42600,17)(44000,18.3)(45400,17.6)(47300,18.3)(49100,17)(51000,16.3)(52800,17.6)(54700,18.3)(56500,17.6)(58400,19)(60300,19)(62100,19.8)(64000,19)(65800,19)(67700,19.8)(69500,19)(71400,18.6)(73200,19)(75100,19.8)(76900,19)(78800,19.4)(80600,19)(82500,19.8)(84400,19.4)(86200,19.8)(88100,20.2)(89900,20.5)(91800,20.2)(93600,20.5)(95500,19.8)};
\addplot[c2] coordinates {(0,42)(900,50.7)(1850,61)(2800,67)(4200,72)(6000,75.7)(8300,76.8)(10200,75.5)(12100,75)(14000,74.5)(15800,74)(17900,74.5)(19900,73)(21500,71.5)(23200,70)(25000,71)(26900,71)(28800,68)(30600,66)(32000,67)(33400,68.5)(34800,65)(36200,63.5)(38000,63)(39900,62.6)(42200,62.2)(44500,61.5)(46800,60.5)(49100,60)(51500,59)(53800,58.6)(56100,58.2)(58400,57.7)(60700,57)(63000,56.8)(65300,56)(67700,55.5)(70000,55)(72300,56)(74600,54.5)(76900,53.9)(79200,54.2)(81600,53.9)(83900,53.2)(86200,53.5)(88500,53)(90800,53.5)(93100,52.8)(95500,52)};
\addplot[c3] coordinates {(0,60)(460,26.7)(900,15.7)(1400,13.5)(1850,10.8)(2300,8.6)(2800,6.9)(3500,5.5)(4200,6.4)(4800,5.1)(5600,5.9)(6300,4.7)(7000,5.5)(7600,4.4)(8300,4.9)(9100,4.0)(9700,4.7)(10500,3.7)(11100,4.5)(11900,4.2)(12500,5.1)(13300,4.7)(13900,4.0)(14600,3.2)(15300,2.9)(15900,3.7)(16700,4.7)(17400,5.1)(18100,5.7)(18700,4.9)(19500,5.9)(20200,6.9)(20900,5.5)(21500,6.4)(22200,8.6)(23000,6.4)(23600,5.5)(24300,6.9)(25000,7.4)(25800,6.1)(26400,6.4)(27100,5.5)(27800,6.1)(28600,5.1)(29200,5.7)(29900,5.1)(30600,5.5)(31300,5.1)(32000,5.7)(32600,6.6)(33400,6.4)(34100,7.4)(34800,6.9)(35400,7.7)(36200,8.9)(36900,8.0)(37500,6.9)(38300,8.0)(38900,6.9)(39700,8.0)(40300,6.4)(41000,7.4)(41700,6.6)(42500,7.1)(43100,6.1)(43800,6.9)(44500,7.4)(45400,6.9)(46400,6.4)(47300,7.4)(48200,8.6)(49100,8.0)(50100,6.9)(51000,8.0)(51900,9.6)(52800,8.6)(53800,8.9)(54700,7.4)(55600,8.0)(56500,6.9)(57500,8.0)(58400,10)(59300,11.6)(60100,14.6)(60700,10.8)(61600,8.6)(62600,10)(63500,8.0)(64400,6.9)(65400,5.5)(66300,7.4)(67200,8.6)(68100,7.4)(69100,9.3)(70000,8.0)(70900,9.6)(71800,11.6)(72800,9.3)(73700,7.4)(74600,8.6)(75600,8.0)(76500,9.6)(77400,14.6)(78300,10.8)(79300,8.6)(80200,10)(81100,7.4)(82000,6.9)(83000,9.3)(83900,7.4)(84800,8.6)(85700,8.0)(86700,10)(87600,8.0)(88500,6.4)(89500,5.1)(90400,6.9)(91300,8.6)(92200,12.5)(93200,14.6)(94100,13.0)(95000,10)(95500,8.9)};
\addplot[c4] coordinates {(0,70)(460,39)(900,23)(1850,11.6)(2800,5.9)(3700,3.5)(4600,2.2)(5600,1.5)(6300,1.04)(7000,0.86)(7600,0.93)(8300,1.04)(9300,1.16)(10200,1.3)(11100,1.4)(12100,1.5)(12800,1.9)(13400,1.57)(14400,2.05)(15300,1.83)(16200,2.2)(17100,1.76)(18100,2.3)(19000,2.6)(19900,2.2)(20900,2.75)(21800,2.2)(22700,2.7)(23600,2.1)(24600,2.6)(25500,2.2)(26400,1.9)(27300,2.4)(28300,2.05)(29200,2.6)(30100,3.0)(31100,2.4)(32000,2.7)(32900,2.9)(33800,2.4)(34800,2.9)(35700,2.6)(36600,3.0)(37500,2.75)(38500,3.2)(39400,3.6)(40300,3.75)(41300,3.0)(42200,3.35)(43100,2.75)(44000,2.2)(45000,2.6)(45900,3.2)(46800,2.9)(47700,3.35)(48700,2.9)(49600,3.5)(50500,3.2)(51400,2.3)(52100,1.9)(52800,2.4)(53800,2.75)(54700,3.1)(55600,3.5)(56500,3.2)(57500,3.6)(58400,3.0)(59300,2.6)(60300,2.3)(61200,2.9)(62100,3.35)(63000,2.9)(64000,3.5)(64900,3.0)(65800,3.9)(66700,3.2)(67700,3.0)(68600,4.0)(69500,2.75)(70500,3.0)(71400,2.7)(72300,3.5)(73200,3.0)(74200,3.6)(75100,2.9)(76000,3.35)(76900,2.7)(77900,3.2)(78800,2.6)(79700,3.0)(80600,3.6)(81600,2.75)(82500,3.1)(83400,2.7)(84400,3.2)(85300,2.9)(86200,3.35)(87100,3.0)(88100,3.2)(89000,2.6)(89900,2.9)(90800,3.5)(91800,3.0)(92700,3.2)(93600,3.75)(94500,4.0)(95500,4.2)};
\leg
\end{axis}

% captions
\node[anchor=base, font=\fontsize{23.5}{28}\selectfont] at (207bp,-350bp) {\capt{(a) 1 hidden layer; 1000 nodes}};
\node[anchor=base, font=\fontsize{23.5}{28}\selectfont] at (612bp,-350bp) {\capt{(b) 3 hidden layers; 1000 nodes each}};
\node[anchor=base, font=\fontsize{23.5}{28}\selectfont] at (1020bp,-350bp) {\capt{(c) 5 hidden layers; 1000 nodes each}};
\node[anchor=base, font=\fontsize{23.5}{28}\selectfont] at (205bp,-716bp) {\capt{(d) 3 hidden layers; 300 nodes}};
\node[anchor=base, font=\fontsize{23.5}{28}\selectfont] at (611bp,-716bp) {\capt{(e) 3 hidden layer; 3000 nodes}};
\node[anchor=base, font=\fontsize{23.5}{28}\selectfont] at (1020bp,-716bp) {\capt{(f) 5 hidden layer; 300 nodes}};
\end{tikzpicture}
\end{document}
